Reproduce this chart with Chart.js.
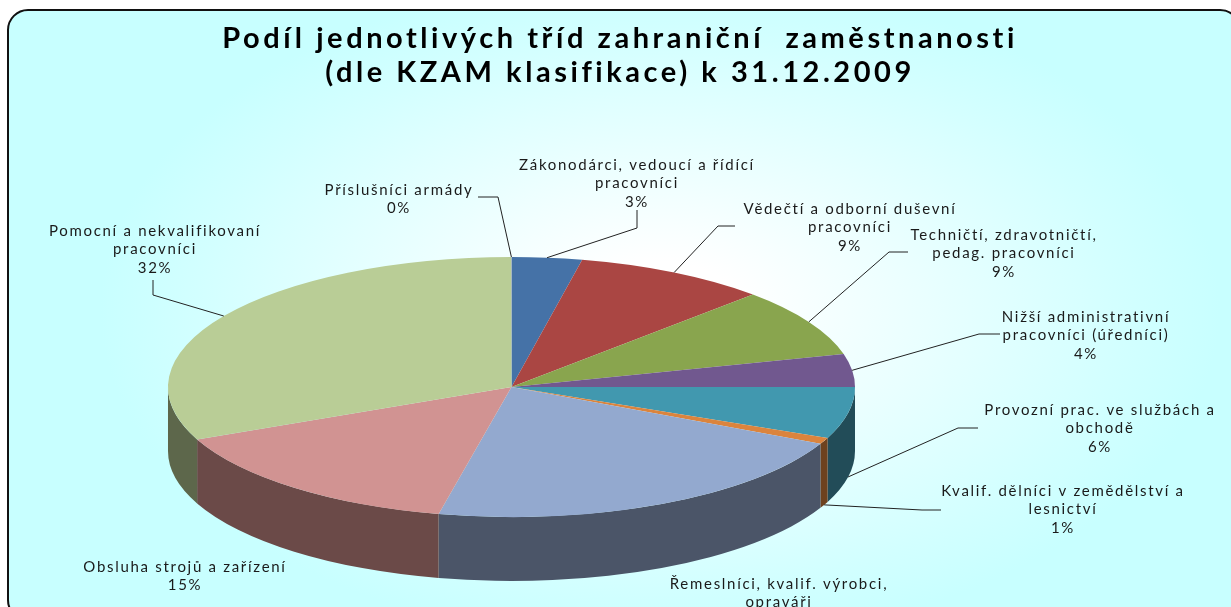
<!DOCTYPE html>
<html lang="cs">
<head>
<meta charset="utf-8">
<title>Podíl jednotlivých tříd zahraniční zaměstnanosti</title>
<script src="https://cdn.jsdelivr.net/npm/chart.js@4"></script>
<style>
html,body{margin:0;padding:0;background:#fff;overflow:hidden}
canvas{display:block}
</style>
</head>
<body>
<canvas id="c" width="1231" height="607"></canvas>
<script>
const titleLines = ['Podíl jednotlivých tříd zahraniční  zaměstnanosti', '(dle KZAM klasifikace) k 31.12.2009'];
const categories = [
  ['Zákonodárci, vedoucí a řídící', 'pracovníci'],
  ['Vědečtí a odborní duševní', 'pracovníci'],
  ['Techničtí, zdravotničtí,', 'pedag. pracovníci'],
  ['Nižší administrativní', 'pracovníci (úředníci)'],
  ['Provozní prac. ve službách a', 'obchodě'],
  ['Kvalif. dělníci v zemědělství a', 'lesnictví'],
  ['Řemeslníci, kvalif. výrobci,', 'opraváři'],
  ['Obsluha strojů a zařízení'],
  ['Pomocní a nekvalifikovaní', 'pracovníci'],
  ['Příslušníci armády']
];
const shares = [3.3, 9.1, 8.5, 4.1, 6.4, 0.8, 21.2, 15.0, 31.59, 0.01];
const topColors = ['#4572A7','#AA4643','#89A54E','#71588F','#4198AF','#DB843D','#93A9CF','#D19392','#B9CD96','#A99BBD'];
const sideColors = ['#2A4464','#662A28','#52632F','#443556','#224C58','#6E421E','#4B5568','#6B4A48','#5D674B','#655D71'];
// label anchor: centre x and first-line y of every data label
const labelX = [637, 850, 1004, 1086, 1100, 1063, 779, 185, 155, 399];
const labelY = [165, 209, 235, 317, 410, 491, 584, 567, 231, 190];
// leader line: label-side end and elbow (null = no leader line)
const leaderEnd = [[637,210],[735,226],[908,252],[1000,334],[978,428],[941,510],null,null,[153,280],[478,197]];
const leaderElbow = [[637,228],[718,226],[889,252],[979,334],[958,428],[922,510],null,null,[153,295],[498,197]];

const pieCx = 511.5, pieCy = 387, pieRx = 343.5, pieRy = 130, pieDepth = 64;
const lineStep = 18.6;

function applyPieTransform(ctx, arc) {
  ctx.translate(pieCx, pieCy);
  ctx.scale(pieRx / arc.outerRadius, pieRy / arc.outerRadius);
  ctx.translate(-arc.x, -arc.y);
}

const pie3d = {
  id: 'pie3d',
  beforeDraw(chart) {
    const ctx = chart.ctx;
    ctx.save();
    ctx.fillStyle = '#fff';
    ctx.fillRect(0, 0, 1231, 607);
    ctx.beginPath();
    ctx.roundRect(8, 10, 1232, 610, 20);
    ctx.save();
    ctx.translate(660, 310);
    ctx.scale(1, 0.6);
    const g = ctx.createRadialGradient(0, 0, 80, 0, 0, 560);
    g.addColorStop(0, '#ffffff');
    g.addColorStop(0.8, '#d2ffff');
    g.addColorStop(1, '#c8ffff');
    ctx.fillStyle = g;
    ctx.fill();
    ctx.restore();
    ctx.lineWidth = 2;
    ctx.strokeStyle = '#111';
    ctx.stroke();
    ctx.restore();
    ctx.letterSpacing = '3.55px';
  },
  beforeDatasetsDraw(chart) {
    const ctx = chart.ctx;
    ctx.letterSpacing = '0px';
    const arcs = chart.getDatasetMeta(0).data;
    ctx.save();
    applyPieTransform(ctx, arcs[0]);
    const depth = pieDepth * arcs[0].outerRadius / pieRy;
    arcs.forEach((a, i) => {
      const s = Math.max(a.startAngle, 0);
      const e = Math.min(a.endAngle, Math.PI);
      if (e <= s) return;
      ctx.beginPath();
      ctx.arc(a.x, a.y, a.outerRadius, s, e);
      ctx.arc(a.x, a.y + depth, a.outerRadius, e, s, true);
      ctx.closePath();
      ctx.fillStyle = sideColors[i];
      ctx.fill();
    });
  },
  afterDatasetsDraw(chart) {
    const ctx = chart.ctx;
    ctx.restore();
    const arcs = chart.getDatasetMeta(0).data;
    ctx.save();
    // leader lines
    ctx.strokeStyle = '#222';
    ctx.lineWidth = 1;
    arcs.forEach((a, i) => {
      if (!leaderEnd[i]) return;
      const mid = (a.startAngle + a.endAngle) / 2;
      const onSide = Math.sin(mid) > 0.1;
      const ax = pieCx + pieRx * Math.cos(mid);
      const ay = pieCy + pieRy * Math.sin(mid) + (onSide ? pieDepth : 0);
      ctx.beginPath();
      ctx.moveTo(leaderEnd[i][0], leaderEnd[i][1]);
      ctx.lineTo(leaderElbow[i][0], leaderElbow[i][1]);
      ctx.lineTo(ax, ay);
      ctx.stroke();
    });
    // labels
    ctx.font = '15px Lato, "Noto Sans", sans-serif';
    ctx.letterSpacing = '1.7px';
    ctx.fillStyle = '#1a1a1a';
    ctx.textAlign = 'center';
    ctx.textBaseline = 'middle';
    categories.forEach((lines, i) => {
      const all = lines.concat(Math.round(shares[i]) + '%');
      all.forEach((t, j) => {
        const y = labelY[i] + j * lineStep;
        if (y < 615) ctx.fillText(t, labelX[i], y);
      });
    });
    ctx.restore();
  }
};

new Chart(document.getElementById('c'), {
  type: 'pie',
  data: {
    labels: categories.map(l => l.join(' ')),
    datasets: [{ data: shares, backgroundColor: topColors, borderWidth: 0, clip: false }]
  },
  plugins: [pie3d],
  options: {
    responsive: false,
    animation: false,
    layout: { padding: { left: 9, right: 0, top: 0, bottom: 90 } },
    plugins: {
      legend: { display: false },
      tooltip: { enabled: false },
      title: {
        display: true,
        text: titleLines,
        color: '#000',
        font: { family: 'Lato, "Noto Sans", sans-serif', size: 29, weight: 'bold', lineHeight: 1.17 },
        padding: { top: 22, bottom: 167 }
      }
    }
  }
});
</script>
</body>
</html>
